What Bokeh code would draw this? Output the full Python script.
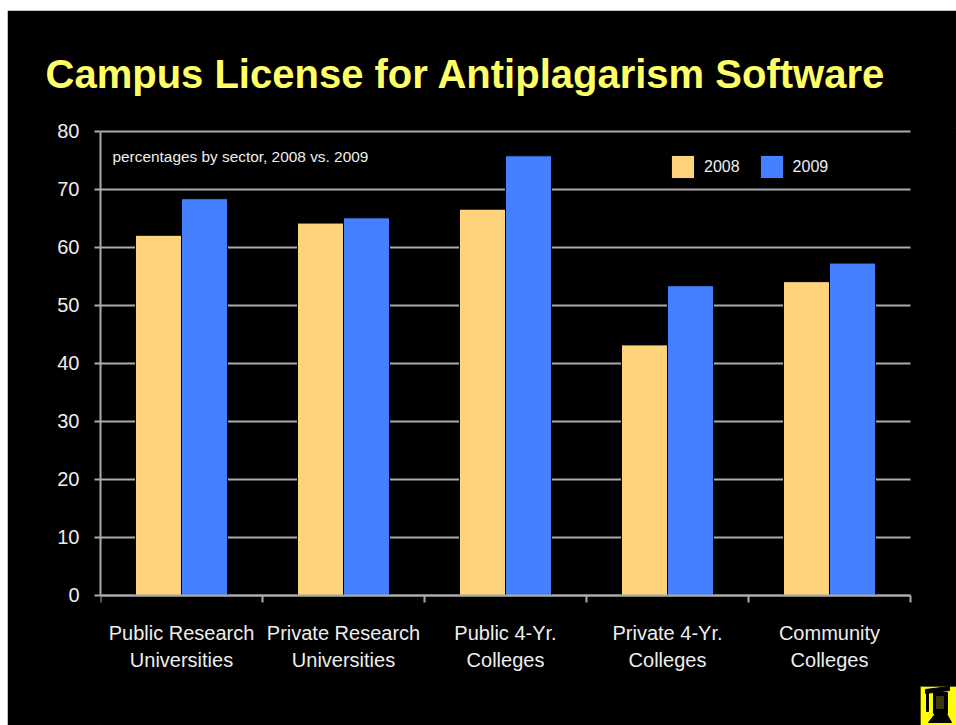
from bokeh.plotting import figure
from bokeh.embed import file_html
from bokeh.resources import INLINE
from bokeh.models import (ColumnDataSource, FixedTicker, LinearAxis, Legend, LegendItem, Label,
                          Title, Range1d)

categories = ["Public Research\nUniversities", "Private Research\nUniversities", "Public 4-Yr.\nColleges",
              "Private 4-Yr.\nColleges", "Community\nColleges"]
v2008 = [62.1, 64.2, 66.6, 43.2, 54.1]
v2009 = [68.4, 65.1, 75.8, 53.4, 57.3]
y_ticks = [0, 10, 20, 30, 40, 50, 60, 70, 80]
title_text = "Campus License for Antiplagarism Software"
subtitle = "percentages by sector, 2008 vs. 2009"

C08, C09 = "#FFD37A", "#4480FF"
AX = "#ababab"
TXT = "#eeeeee"
FONT = "Liberation Sans"

# The frame runs on to the canvas's right and bottom edges so the corner badge can be drawn in it;
# one group is 162 px wide and one percentage point 5.8 px tall.
p = figure(width=949, height=715, output_backend="svg", toolbar_location=None,
           x_range=Range1d(0, 856 / 162), y_range=Range1d(-130 / 5.8, 80.5),
           background_fill_color="black", border_fill_color="black", outline_line_color="black",
           min_border_left=93, min_border_right=0, min_border_top=118, min_border_bottom=0,
           x_axis_type=None, y_axis_type=None)
p.styles = {"margin-top": "10px", "margin-left": "7px"}

p.add_layout(Title(text=title_text, text_color="#FFFF66", text_font=FONT, text_font_style="bold",
                   text_font_size="40px", offset=-55, standoff=66, align="left"), "above")

idx = list(range(len(categories)))
n = len(categories)
p.segment(x0=[0] * len(y_ticks), x1=[n] * len(y_ticks), y0=y_ticks, y1=y_ticks, line_color=AX, line_width=2,
          level="underlay")

src = ColumnDataSource(dict(x8=[i + 0.358 for i in idx], x9=[i + 0.642 for i in idx], v8=v2008, v9=v2009))
r8 = p.vbar(x="x8", top="v8", width=0.284, bottom=0, source=src, fill_color=C08, line_color="black", line_width=1)
r9 = p.vbar(x="x9", top="v9", width=0.284, bottom=0, source=src, fill_color=C09, line_color="black", line_width=1)

yaxis = LinearAxis(ticker=FixedTicker(ticks=y_ticks), bounds=(0, 80), axis_line_color=AX, axis_line_width=2,
                   major_tick_line_color=AX, major_tick_line_width=2, major_tick_out=6, major_tick_in=0,
                   minor_tick_line_color=None, major_label_text_color=TXT, major_label_text_font=FONT,
                   major_label_text_font_size="20px", major_label_standoff=15)
p.add_layout(yaxis, "left")

xaxis = LinearAxis(ticker=FixedTicker(ticks=[i + 0.5 for i in idx], minor_ticks=list(range(n + 1))),
                   fixed_location=0, bounds=(0, n), axis_line_color=AX, axis_line_width=2,
                   major_tick_line_color=None, minor_tick_line_color=AX, minor_tick_line_width=2,
                   minor_tick_out=7, minor_tick_in=0,
                   major_label_overrides={i + 0.5: c for i, c in zip(idx, categories)},
                   major_label_text_color=TXT, major_label_text_font=FONT, major_label_text_font_size="20px",
                   major_label_standoff=20)
p.add_layout(xaxis, "below")

p.add_layout(Label(x=0.074, y=75.7, text=subtitle, text_color=TXT,
                   text_font=FONT, text_font_size="15.4px", text_baseline="middle"))

leg = Legend(items=[LegendItem(label="2008", renderers=[r8]), LegendItem(label="2009", renderers=[r9])],
             orientation="horizontal", location=(568, 544), glyph_width=29, glyph_height=29, spacing=17,
             label_text_color=TXT, label_text_font=FONT, label_text_font_size="16px", label_standoff=7,
             background_fill_alpha=0, border_line_color=None, margin=0, padding=0)
p.add_layout(leg)

# Corner badge: mortarboard over a monitor, outlined in page pixels
def bx(px):
    return [(v - 100) / 162 for v in px]
def by(py):
    return [(595 - v) / 5.8 for v in py]
def badge(px, py, color, line="black"):
    p.patch(bx(px), by(py), fill_color=color, line_color=line, line_width=1)

badge([920, 956, 956, 920], [686, 686, 725, 725], "#FFFF00", "#555500")
badge([925, 949, 949, 925], [689, 686, 690, 693], "black")
badge([926, 928, 928, 926], [691, 691, 711, 711], "black")
badge([933, 947, 947, 933], [692, 692, 713, 713], "black")
badge([936, 943, 943, 936], [696, 696, 708, 708], "#3a3a10", "#3a3a10")
badge([935, 946, 951, 928], [713, 713, 722, 722], "black")

open("out.html", "w").write(file_html(p, INLINE))
